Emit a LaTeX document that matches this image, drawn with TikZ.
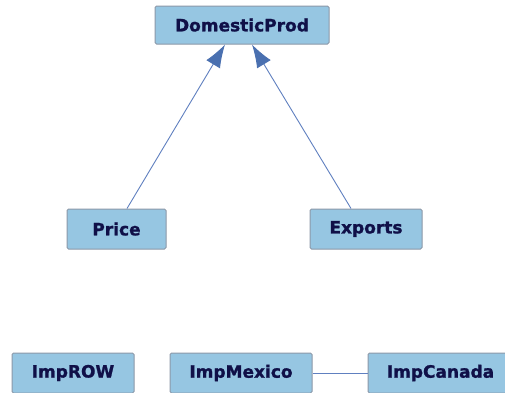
\documentclass[tikz,border=0pt]{standalone}
\usepackage{fontspec}
\newfontfamily\boxfont{DejaVu Sans}[BoldFeatures={FakeBold=1.2}]
\usetikzlibrary{arrows.meta,calc}
\definecolor{boxfill}{RGB}{150,198,226}
\definecolor{boxline}{RGB}{140,152,168}
\definecolor{boxtext}{RGB}{16,16,72}
\definecolor{edgecol}{RGB}{96,128,192}
\definecolor{headcol}{RGB}{74,112,176}
\begin{document}
\begin{tikzpicture}[x=1pt,y=-1pt,
  vbox/.style={draw=boxline,line width=1pt,fill=boxfill,rounded corners=1.5pt,
    inner sep=0pt,minimum height=38pt,text=boxtext,
    font=\boxfont\bfseries\fontsize{17}{20}\selectfont},
  edge/.style={draw=edgecol,line width=0.9pt},
  arr/.style={edge,-{Latex[length=23pt,width=16pt,fill=headcol,color=headcol]}}]
\useasboundingbox (0,0) rectangle (505,392);
\clip (0,0) rectangle (505,392);
\fill[white] (0,0) rectangle (505,392);
\node[vbox,minimum width=174pt] (dom) at (242,25) {DomesticProd};
\node[vbox,minimum width=99pt,minimum height=40pt] (price) at (116.5,229) {Price};
\node[vbox,minimum width=112pt,minimum height=40pt] (exports) at (366,229) {Exports};
\node[vbox,minimum width=122pt,minimum height=40pt] (improw) at (73,373) {ImpROW};
\node[vbox,minimum width=142pt,minimum height=40pt] (impmex) at (241,373) {ImpMexico};
\node[vbox,minimum width=145pt,minimum height=40pt] (impcan) at (440.5,373) {ImpCanada};
\draw[arr] ($(price.north)+(10.5,0)$) -- ($(dom.south)+(-17,0)$);
\draw[arr] ($(exports.north)+(-15,0)$) -- ($(dom.south)+(10,0)$);
\draw[edge] (impmex) -- (impcan);
\end{tikzpicture}
\end{document}
